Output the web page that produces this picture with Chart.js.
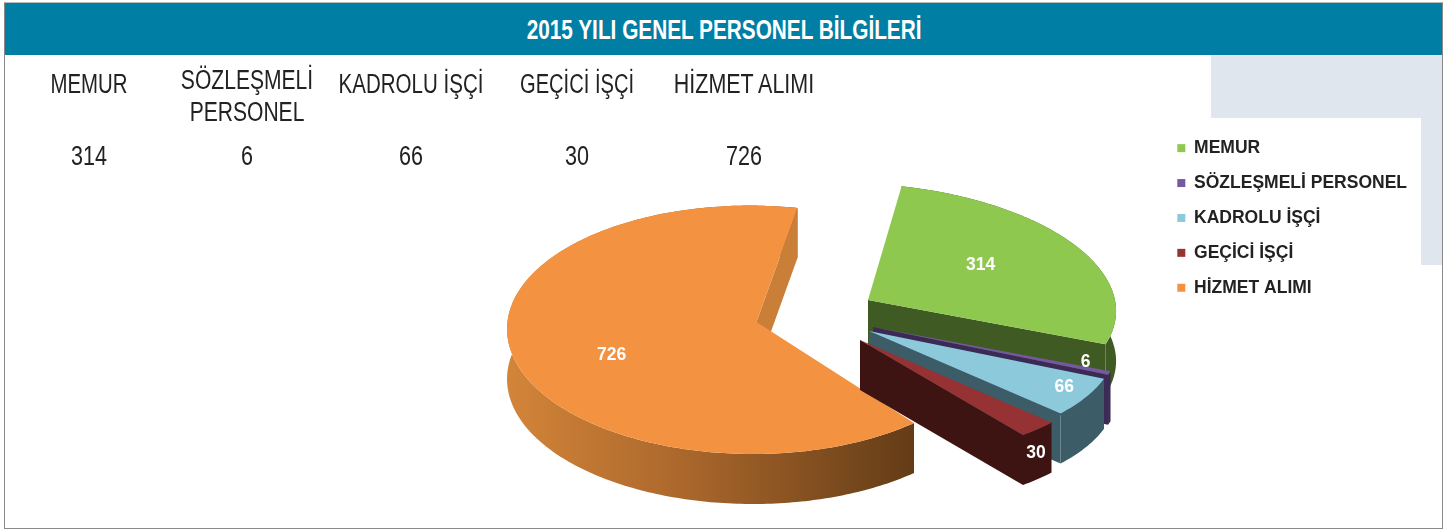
<!DOCTYPE html>
<html lang="tr"><head><meta charset="utf-8">
<style>
html,body{margin:0;padding:0;background:#fff;width:1451px;height:529px;overflow:hidden}
#frame{position:absolute;left:4px;top:2px;width:1437px;height:525px;border:1px solid #8a8a8a;border-top-color:#bbb}
#band{position:absolute;left:5px;top:3px;width:1437px;height:52px;background:#007ea4;color:#fff;text-align:center;font:bold 28px/53px "Liberation Sans";}
#band span{display:inline-block;position:relative;left:1px;transform:scaleX(.742);white-space:nowrap}
#g1{position:absolute;left:1211px;top:55px;width:231px;height:210px;background:#dfe6ee}
#g2{position:absolute;left:1190px;top:118px;width:231px;height:160px;background:#fff}
canvas{position:absolute;left:0;top:0}
.t{position:absolute;text-align:center;color:#222;font:27px/29px "Liberation Sans";white-space:nowrap}
</style></head><body>
<div id="g1"></div><div id="g2"></div><div id="frame"></div>
<div id="band"><span>2015 YILI GENEL PERSONEL BİLGİLERİ</span></div>
<canvas id="c" width="1451" height="529"></canvas>
<script src="https://cdn.jsdelivr.net/npm/chart.js@4/dist/chart.umd.js"></script>
<script>
const categories = ["MEMUR","SÖZLEŞMELİ PERSONEL","KADROLU İŞÇİ","GEÇİCİ İŞÇİ","HİZMET ALIMI"];
const tableHeads = [["MEMUR"],["SÖZLEŞMELİ","PERSONEL"],["KADROLU İŞÇİ"],["GEÇİCİ İŞÇİ"],["HİZMET ALIMI"]];
const values = [314,6,66,30,726];
const topColors = ["#8fc84f","#7559a0","#8ccadb","#963233","#f39342"];
const wallColors = ["#3f5a22","#3b2a55","#3c5d68","#3e1413",null];

// table above the pie
const colX=[89,247,411,577,744];
const colSq=[.755,.78,.76,.745,.795];
tableHeads.forEach((h,i)=>{
  h.forEach((line,j)=>{
    const d=document.createElement('div');d.className='t';d.textContent=line;
    d.style.transform='translateX(-50%) scaleX('+colSq[i]+')';
    d.style.left=colX[i]+'px';d.style.top=(h.length>1?(j?98:66):70)+'px';document.body.appendChild(d);
  });
  const v=document.createElement('div');v.className='t';v.textContent=values[i];
  v.style.transform='translateX(-50%) scaleX(.8)';
  v.style.left=colX[i]+'px';v.style.top='142px';document.body.appendChild(v);
});

// --- camera: how the pie's unit circle lands on the page
function solveH(src,dst){
  const A=[];
  src.forEach((s,i)=>{const [x,y]=s,[X,Y]=dst[i];
    A.push([x,y,1,0,0,0,-x*X,-y*X,X]);A.push([0,0,0,x,y,1,-x*Y,-y*Y,Y]);});
  for(let c=0;c<8;c++){
    let p=c;for(let r=c+1;r<8;r++)if(Math.abs(A[r][c])>Math.abs(A[p][c]))p=r;
    [A[c],A[p]]=[A[p],A[c]];
    for(let r=0;r<8;r++)if(r!==c){const f=A[r][c]/A[c][c];for(let k=c;k<9;k++)A[r][k]-=f*A[c][k];}
  }
  const h=A.map((r,i)=>r[8]/r[i]);
  return (x,y)=>{const w=h[6]*x+h[7]*y+1;return [(h[0]*x+h[1]*y+h[2])/w,(h[3]*x+h[4]*y+h[5])/w];};
}
const ang=d=>[Math.cos(d*Math.PI/180),Math.sin(d*Math.PI/180)];
const mainCam=solveH([ang(0),ang(49),ang(180),ang(229)],[[914,423],[709,452],[610,228],[798,208]]);
const sideCam=(ox,oy)=>(x,y)=>[ox+163*x-187*y,oy+95*x+68*y];
const cams=[sideCam(868,300),sideCam(873,327),sideCam(869,331),sideCam(860,340),mainCam];
const DEPTH=50;
const labelPos=[[.54,-6],[.9,-6],[.9,-3],[.99,25],[.6,15]];

const pie3d={id:'pie3d',
  beforeDatasetsDraw(chart){
    const ctx=chart.ctx, arcs=chart.getDatasetMeta(0).data;
    const order=[4,0,1,2,3];
    for(const i of order){
      const a=arcs[i],cam=cams[i];
      const s=a.startAngle,e=a.endAngle,n=Math.max(4,Math.ceil((e-s)*60));
      const rim=[];for(let k=0;k<=n;k++){const t=s+(e-s)*k/n;rim.push(cam(Math.cos(t),Math.sin(t)));}
      const apex=cam(0,0),last=rim[n];
      let wall=wallColors[i];
      let rimFill=wall;
      if(!wall){
        const g=ctx.createLinearGradient(507,0,914,0);
        g.addColorStop(0,'#d38539');g.addColorStop(.45,'#a9662b');g.addColorStop(1,'#633c17');
        rimFill=g;wall='#c97f38';
      }
      // outer rim wall
      ctx.beginPath();rim.forEach((p,k)=>k?ctx.lineTo(p[0],p[1]):ctx.moveTo(p[0],p[1]));
      for(let k=n;k>=0;k--)ctx.lineTo(rim[k][0],rim[k][1]+DEPTH);
      ctx.closePath();ctx.fillStyle=rimFill;ctx.fill();
      // radial wall at the clockwise end
      ctx.beginPath();ctx.moveTo(apex[0],apex[1]);ctx.lineTo(last[0],last[1]);
      ctx.lineTo(last[0],last[1]+DEPTH);ctx.lineTo(apex[0],apex[1]+DEPTH);ctx.closePath();
      ctx.fillStyle=wall;ctx.fill();
      // top face
      ctx.beginPath();ctx.moveTo(apex[0],apex[1]);rim.forEach(p=>ctx.lineTo(p[0],p[1]));ctx.closePath();
      ctx.fillStyle=topColors[i];ctx.fill();
    }
    ctx.font='bold 17.5px "Liberation Sans"';ctx.fillStyle='#fff';ctx.textAlign='center';ctx.textBaseline='middle';
    arcs.forEach((a,i)=>{
      const m=(a.startAngle+a.endAngle)/2,[r,dy]=labelPos[i];
      const p=cams[i](r*Math.cos(m),r*Math.sin(m));
      ctx.fillText(String(values[i]),p[0],p[1]+dy);
    });
    return false;
  }
};

new Chart(document.getElementById('c'),{
  type:'pie',
  data:{labels:categories,datasets:[{data:values,backgroundColor:topColors,borderWidth:0}]},
  plugins:[pie3d],
  options:{responsive:false,animation:false,rotation:318.86,
    layout:{padding:{top:122,right:34,bottom:0,left:0}},
    plugins:{tooltip:{enabled:false},
      legend:{position:'right',align:'start',
        labels:{boxWidth:8,boxHeight:8,padding:17.4,color:'#222',font:{family:'"Liberation Sans"',weight:'bold',size:17.5}}}}
  }
});
</script></body></html>
